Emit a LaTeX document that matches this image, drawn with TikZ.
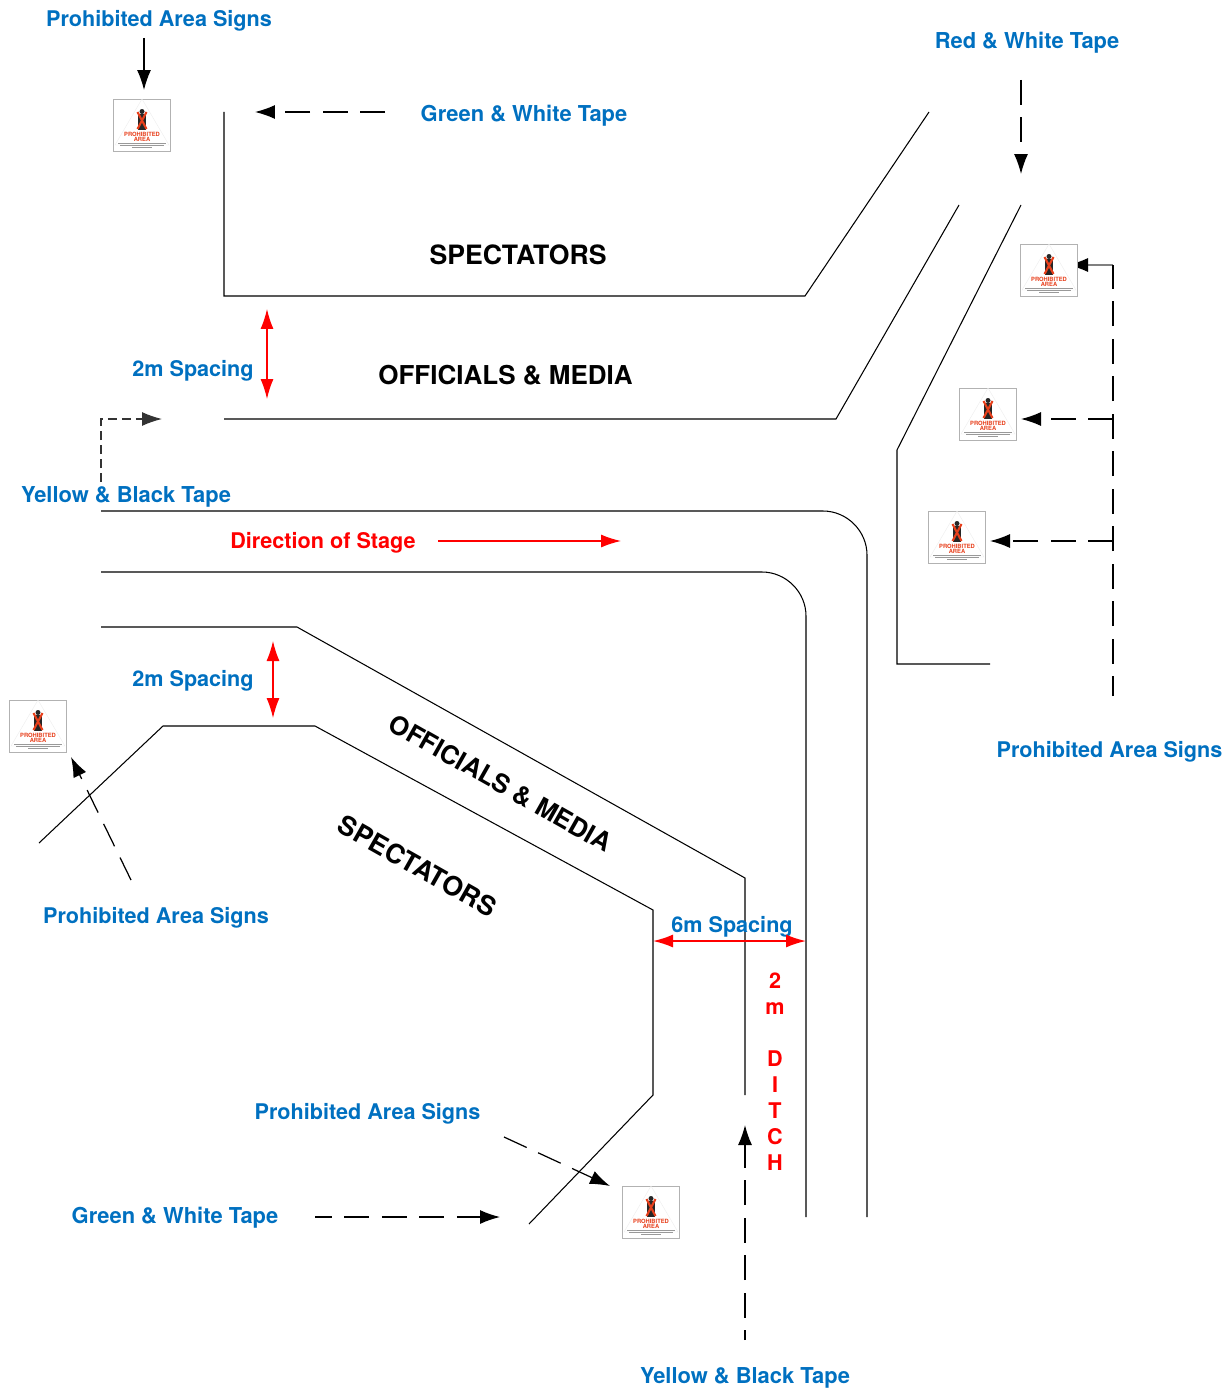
\documentclass[tikz,border=0pt]{standalone}
\usepackage{fontspec}
\setmainfont{TeX Gyre Heros}
\usetikzlibrary{arrows.meta}
\definecolor{labelblue}{HTML}{0070C0}
\definecolor{signred}{HTML}{E8401C}
\tikzset{
    barrier/.style={line width=0.6pt},
    tape/.style={line width=0.7pt,dash pattern=on 0.5cm off 0.25cm,-{Latex[length=0.4cm,width=0.28cm]}},
    shorttape/.style={line width=0.65pt,black!80,dash pattern=on 0.18cm off 0.1cm,-{Latex[length=0.4cm,width=0.28cm]}},
    solidarrow/.style={line width=0.7pt,-{Latex[length=0.4cm,width=0.28cm]}},
    greyarrow/.style={line width=0.7pt,gray,-{Latex[length=0.4cm,width=0.28cm,black]}},
    spacing/.style={red,line width=0.65pt,{Latex[length=0.4cm,width=0.26cm]}-{Latex[length=0.4cm,width=0.26cm]}},
    widespacing/.style={spacing,line width=0.95pt},
    stagearrow/.style={red,line width=0.7pt,-{Latex[length=0.4cm,width=0.26cm]}},
    bluelabel/.style={text=labelblue,font=\fontsize{12.3}{14}\selectfont\bfseries,inner sep=0pt},
    tapelabel/.style={text=labelblue,font=\fontsize{12.47}{14}\selectfont\bfseries,inner sep=0pt},
    redlabel/.style={text=red,font=\fontsize{12.3}{14}\selectfont\bfseries,inner sep=0pt},
    zonelabel/.style={font=\fontsize{14.8}{17}\selectfont\bfseries,inner sep=0pt},
    spectlabel/.style={font=\fontsize{15.15}{17}\selectfont\bfseries,inner sep=0pt},
    signbox/.style={draw=gray!60,line width=0.5pt,fill=white,minimum width=1.14cm,minimum height=1.04cm,inner sep=0pt},
    signmark/.pic={
        \draw[gray!15,line width=0.2pt] (-27,20)--(0,-26)--(27,20)--cycle;
        \fill[black!85] (0,-13.5)circle(0.05cm);
        \fill[black!85] (-4,-11)rectangle(4,5);
        \draw[signred,line width=1.2pt] (-4.5,-13)--(4.5,4) (4.5,-13)--(-4.5,4);
        \node[inner sep=0pt,align=center,text=signred,font=\fontsize{3.3}{3}\selectfont\bfseries] at (0,11.5){PROHIBITED\\AREA};
        \foreach \yy/\ww in {18/24,20/22,22/10}
        {
            \draw[gray!80,line width=0.3pt] (-\ww,\yy)--(\ww,\yy);
        }
    }
}
\begin{document}
\begin{tikzpicture}[x=0.02cm,y=-0.02cm]
    \useasboundingbox (0,0) rectangle (1231,1389);
    % barriers
    \draw[barrier] (224,112)--(224,296)--(805,296)--(929,112);
    \draw[barrier] (224,419)--(836,419)--(959,205);
    \draw[barrier] (1021,205)--(897,450)--(897,664)--(990,664);
    \draw[barrier] (101,511)--(823,511) .. controls (847,511) and (867,531) .. (867,555)--(867,1217);
    \draw[barrier] (101,572)--(762,572) .. controls (786,572) and (806,592) .. (806,616)--(806,1217);
    \draw[barrier] (101,627)--(297,627)--(745,878)--(745,1095);
    \draw[barrier] (39,843)--(163,726)--(315,726)--(653,910)--(653,1095)--(529,1224);
    % free ends of the arrows
    \foreach \x/\y/\n in {144/38/fa,144/90/fb,385/112/fc,255/112/fd,1021/80/fe,1021/174/ff,267/309/fg,267/399/fh,101/482/fi,162/419/fj,438/541/fk,621/541/fl,273/641/fm,273/718/fn,131/880/fo,71/757/fp,653/941/fq,806/941/fr,504/1137/fs,610/1186/ft,315/1217/fu,500/1217/fv,745/1340/fw,745/1125/fx,1113/696/fy,1113/265/fz,1068/265/ga,1113/419/gb,1021/419/gc,1113/541/gd,990/541/ge}
    {
        \coordinate(\n) at(\x,\y);
    }
    % this tip runs under the sign
    \draw[greyarrow] (fz)--(ga);
    % signs
    \foreach \x/\y/\n in {142/125/signa,1049/270/signb,988/414/signc,957/537/signd,38/726/signe,651/1212/signf}
    {
        \node[signbox](\n) at(\x,\y){};
        \pic at(\n){signmark};
    }
    % labels
    \foreach \x/\y/\t/\n in {159/21/Prohibited Area Signs/paa,193/371/2m Spacing/spa,193/681/2m Spacing/spb,1109.5/752/Prohibited Area Signs/pab,156/918/Prohibited Area Signs/pac,732/927/6m Spacing/spc,367.5/1114/Prohibited Area Signs/pad}
    {
        \node[bluelabel](\n) at(\x,\y){\t};
    }
    \foreach \x/\y/\t/\n in {524/116/Green \& White Tape/gwa,1027/43/Red \& White Tape/rwa,126/497/Yellow \& Black Tape/yba,175/1218/Green \& White Tape/gwb,745/1378/Yellow \& Black Tape/ybb}
    {
        \node[tapelabel](\n) at(\x,\y){\t};
    }
    \node[redlabel](stage) at(323,543){Direction of Stage};
    \foreach \y/\t/\n in {981/2/da,1009/m/db,1059/D/dc,1085/I/dd,1111/T/de,1137/C/df,1163/H/dg}
    {
        \node[redlabel](\n) at(775,\y){\t};
    }
    \node[spectlabel](zonea) at(518,255){SPECTATORS};
    \node[zonelabel](zoneb) at(505.5,375){OFFICIALS \& MEDIA};
    \node[zonelabel,rotate=-29.5,font=\fontsize{14.6}{17}\selectfont\bfseries](zonec) at(500.5,783){OFFICIALS \& MEDIA};
    \node[spectlabel,rotate=-29.5](zoned) at(417.5,866){SPECTATORS};
    % arrows
    \draw[solidarrow] (fa)--(fb);
    \draw[tape] (fc)--(fd);
    \draw[tape] (fe)--(ff);
    \draw[spacing] (fg)--(fh);
    \draw[shorttape] (fi)|-(fj);
    \draw[stagearrow] (fk)--(fl);
    \draw[spacing] (fm)--(fn);
    \draw[tape] (fo)--(fp);
    \draw[widespacing] (fq)--(fr);
    \draw[tape] (fs)--(ft);
    \draw[tape,dash phase=0.16cm] (fu)--(fv);
    \draw[tape,dash phase=0.3cm] (fw)--(fx);
    \draw[tape,-,dash phase=0.1cm] (fy)--(fz);
    \draw[tape] (gb)--(gc);
    \draw[tape] (gd)--(ge);
\end{tikzpicture}
\end{document}
